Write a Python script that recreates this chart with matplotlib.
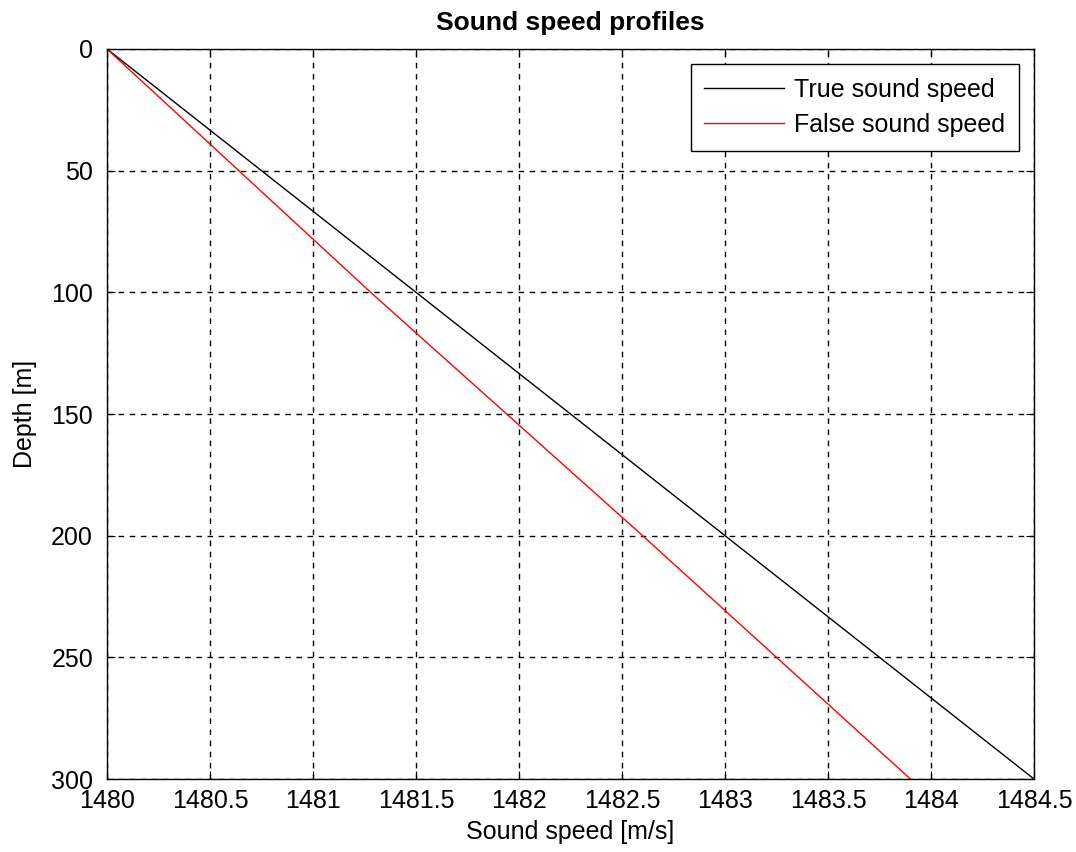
import numpy as np
import matplotlib
matplotlib.use('Agg')
import matplotlib.pyplot as plt

plt.rcParams['font.family'] = ['Liberation Sans', 'DejaVu Sans']

# Depth samples [m] and sound speed values [m/s]
depth = [0, 50, 100, 150, 200, 250, 300]
true_speed = [1480.0, 1480.75, 1481.5, 1482.25, 1483.0, 1483.75, 1484.5]
false_speed = [1480.0, 1480.64, 1481.28, 1481.94, 1482.60, 1483.25, 1483.90]

xticks = [1480, 1480.5, 1481, 1481.5, 1482, 1482.5, 1483, 1483.5, 1484, 1484.5]
yticks = [0, 50, 100, 150, 200, 250, 300]

fig = plt.figure(figsize=(10.76, 8.52), dpi=100)
ax = fig.add_axes([107/1076, 1 - 779/852, 927/1076, 730/852])

ax.plot(true_speed, depth, color='black', lw=1, label='True sound speed')
ax.plot(false_speed, depth, color='red', lw=1, label='False sound speed')

ax.set_xlim(1480, 1484.5)
ax.set_ylim(300, 0)
ax.set_xticks(xticks)
ax.set_xticklabels(['%g' % t for t in xticks])
ax.set_yticks(yticks)

ax.grid(True, color='black', linestyle=(0, (4, 4)), lw=1)
ax.tick_params(direction='in', top=True, right=True, labelsize=18, length=6)
ax.tick_params(axis='x', pad=7)
ax.tick_params(axis='y', pad=10)
for s in ax.spines.values():
    s.set_linewidth(1)

ax.set_title('Sound speed profiles', fontsize=19, fontweight='bold', pad=14)
ax.set_xlabel('Sound speed [m/s]', fontsize=18, labelpad=5)
ax.set_ylabel('Depth [m]', fontsize=18, labelpad=10)

leg = ax.legend(loc='upper right', fontsize=18, fancybox=False, framealpha=1,
                edgecolor='black', handlelength=3.2, handletextpad=0.4,
                borderpad=0.55, labelspacing=0.45, borderaxespad=0.6)
leg.get_frame().set_linewidth(1)

plt.savefig('out.png', dpi=100)
